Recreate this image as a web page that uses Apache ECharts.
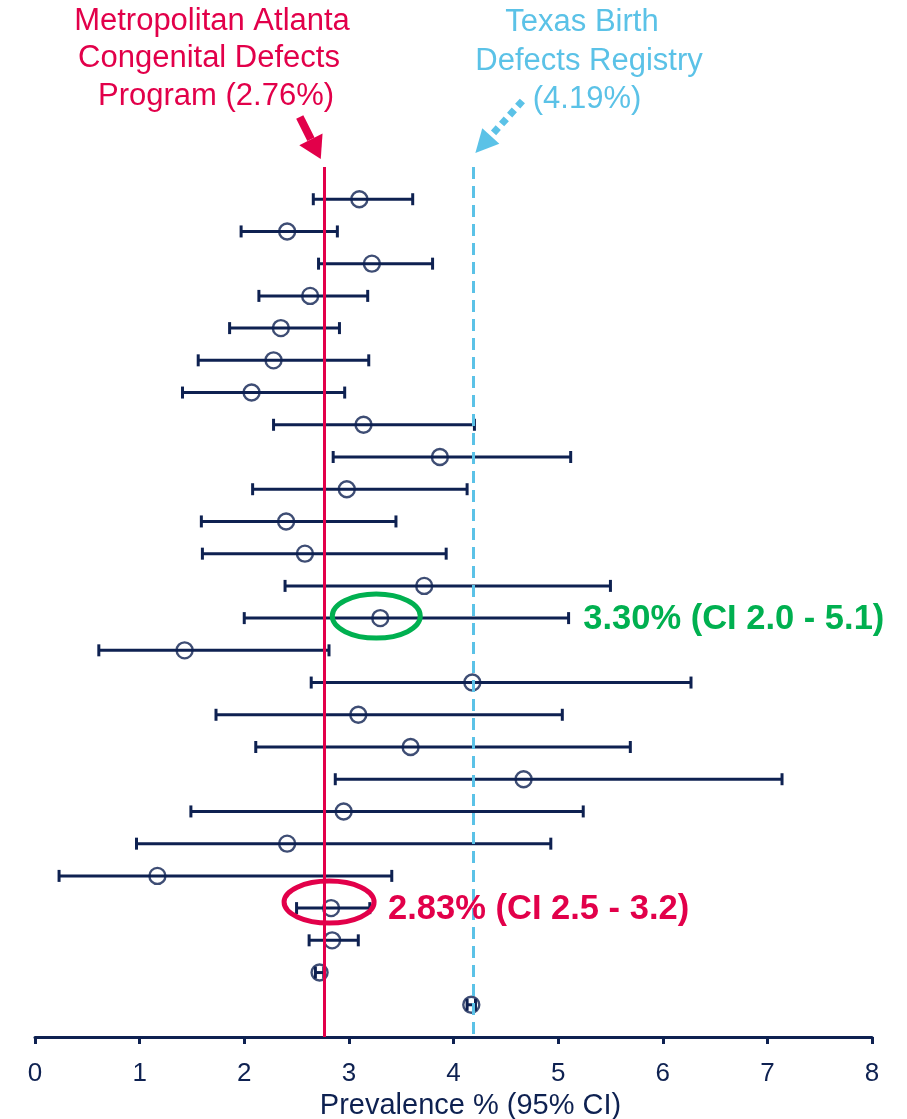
<!DOCTYPE html>
<html>
<head>
<meta charset="utf-8">
<title>Prevalence % (95% CI)</title>
<script src="https://cdn.jsdelivr.net/npm/echarts@6/dist/echarts.min.js"></script>
<style>
  html, body { margin: 0; padding: 0; background: #ffffff; }
  #chart { width: 907px; height: 1119px; }
</style>
</head>
<body>
<div id="chart"></div>
<script>
// Prevalence estimates (%) with 95% confidence limits, one entry per study, top to bottom
const prevalence = [3.10, 2.41, 3.22, 2.63, 2.35, 2.28, 2.07, 3.14, 3.87, 2.98, 2.40, 2.58, 3.72, 3.30, 1.43, 4.18, 3.09, 3.59, 4.67, 2.95, 2.41, 1.17, 2.83, 2.84, 2.72, 4.17];
const ciLower    = [2.66, 1.97, 2.71, 2.14, 1.86, 1.56, 1.41, 2.28, 2.85, 2.08, 1.59, 1.60, 2.39, 2.0,  0.61, 2.64, 1.73, 2.11, 2.87, 1.49, 0.97, 0.23, 2.5,  2.62, 2.68, 4.13];
const ciUpper    = [3.61, 2.89, 3.80, 3.18, 2.91, 3.19, 2.96, 4.20, 5.12, 4.13, 3.45, 3.93, 5.50, 5.1,  2.81, 6.27, 5.04, 5.69, 7.14, 5.24, 4.93, 3.41, 3.2,  3.09, 2.76, 4.21];

// Registry reference rates (%)
const atlantaRate = 2.76;
const texasRate = 4.19;

// x-axis ticks
const xTicks = [0, 1, 2, 3, 4, 5, 6, 7, 8];

// Highlighted studies (row index into the arrays above)
const highlightGreen = 13;
const highlightRed = 22;

const NAVY = '#0E2151';
const RED = '#E2004A';
const BLUE = '#5BC2E7';
const GREEN = '#00B050';
const FONT = '"Liberation Sans", Arial, Helvetica, sans-serif';

const rowCount = prevalence.length;
const rows = prevalence.map((_, i) => i + 1);
const ciData = rows.map((r, i) => [r, ciLower[i], ciUpper[i]]);
const pointData = rows.map((r, i) => [prevalence[i], r]);

const chart = echarts.init(document.getElementById('chart'), null, { renderer: 'canvas' });

const option = {
  backgroundColor: '#ffffff',
  animation: false,
  grid: { left: 35, right: 35, top: 167, bottom: 82, containLabel: false, outerBoundsMode: 'none' },
  xAxis: {
    type: 'value',
    position: 'bottom',
    min: xTicks[0],
    max: xTicks[xTicks.length - 1],
    interval: 1,
    axisLine: { show: true, onZero: false, lineStyle: { color: NAVY, width: 3 } },
    axisTick: { show: true, inside: false, length: 7, lineStyle: { color: NAVY, width: 3 } },
    axisLabel: { color: NAVY, fontSize: 26, fontFamily: FONT, margin: 24 },
    splitLine: { show: false },
    name: 'Prevalence % (95% CI)',
    nameLocation: 'middle',
    nameGap: 53,
    nameTextStyle: { color: NAVY, fontSize: 29, fontFamily: FONT, padding: [0, 0, 0, 34] }
  },
  yAxis: {
    type: 'value',
    min: 0,
    max: rowCount + 1,
    inverse: true,
    show: false
  },
  series: [
    {
      name: 'CI',
      type: 'custom',
      z: 2,
      encode: { x: [1, 2], y: 0 },
      data: ciData,
      renderItem: function (params, api) {
        const row = api.value(0);
        const a = api.coord([api.value(1), row]);
        const b = api.coord([api.value(2), row]);
        const cap = 6;
        const style = { stroke: NAVY, lineWidth: 3, fill: null };
        return {
          type: 'group',
          children: [
            { type: 'line', shape: { x1: a[0], y1: a[1], x2: b[0], y2: b[1] }, style: style },
            { type: 'line', shape: { x1: a[0], y1: a[1] - cap, x2: a[0], y2: a[1] + cap }, style: style },
            { type: 'line', shape: { x1: b[0], y1: b[1] - cap, x2: b[0], y2: b[1] + cap }, style: style }
          ]
        };
      }
    },
    {
      name: 'Prevalence',
      type: 'scatter',
      z: 3,
      symbol: 'circle',
      symbolSize: 16,
      itemStyle: { color: 'rgba(0,0,0,0)', borderColor: NAVY, borderWidth: 2.4 },
      data: pointData
    },
    {
      name: 'Reference',
      type: 'line',
      z: 5,
      data: [],
      markLine: {
        silent: true,
        symbol: ['none', 'none'],
        label: { show: false },
        data: [
          { xAxis: atlantaRate, lineStyle: { color: RED, width: 3, type: 'solid' } },
          { xAxis: texasRate, lineStyle: { color: BLUE, width: 3, type: [12, 7] } }
        ]
      }
    }
  ]
};

chart.setOption(option);

// Arrow made of a straight shaft and a triangular head
function arrowHead(tip, dir, len, half) {
  const bx = tip[0] - dir[0] * len, by = tip[1] - dir[1] * len;
  const nx = -dir[1], ny = dir[0];
  return [[tip[0], tip[1]], [bx + nx * half, by + ny * half], [bx - nx * half, by - ny * half]];
}
function unit(from, to) {
  const dx = to[0] - from[0], dy = to[1] - from[1];
  const l = Math.sqrt(dx * dx + dy * dy);
  return [dx / l, dy / l];
}

const topRed = chart.convertToPixel({ gridIndex: 0 }, [atlantaRate, 0]);
const topBlue = chart.convertToPixel({ gridIndex: 0 }, [texasRate, 0]);
const gPt = chart.convertToPixel({ gridIndex: 0 }, pointData[highlightGreen]);
const rPt = chart.convertToPixel({ gridIndex: 0 }, pointData[highlightRed]);

const redTip = [topRed[0] - 3, topRed[1] - 8];
const redTail = [redTip[0] - 21, redTip[1] - 42];
const redDir = unit(redTail, redTip);
const redBase = [redTip[0] - redDir[0] * 22, redTip[1] - redDir[1] * 22];

const blueTip = [topBlue[0] + 2, topBlue[1] - 14];
const blueTail = [blueTip[0] + 47, blueTip[1] - 52];
const blueDir = unit(blueTail, blueTip);
const blueBase = [blueTip[0] - blueDir[0] * 20, blueTip[1] - blueDir[1] * 20];

const titleStyle = (txt, color) => ({ text: txt, fill: color, font: '31px ' + FONT, align: 'center', verticalAlign: 'middle' });

chart.setOption({
  graphic: [
    // Atlanta label
    { type: 'text', x: 212, y: 21, style: titleStyle('Metropolitan Atlanta', RED) },
    { type: 'text', x: 209, y: 58, style: titleStyle('Congenital Defects', RED) },
    { type: 'text', x: 216, y: 96, style: titleStyle('Program (2.76%)', RED) },
    // Texas label
    { type: 'text', x: 582, y: 22, style: titleStyle('Texas Birth', BLUE) },
    { type: 'text', x: 589, y: 61, style: titleStyle('Defects Registry', BLUE) },
    { type: 'text', x: 587, y: 99, style: titleStyle('(4.19%)', BLUE) },
    // Red arrow
    { type: 'line', z: 10, shape: { x1: redTail[0], y1: redTail[1], x2: redBase[0], y2: redBase[1] },
      style: { stroke: RED, lineWidth: 8, lineCap: 'butt' } },
    { type: 'polygon', z: 10, shape: { points: arrowHead(redTip, redDir, 22, 13) }, style: { fill: RED } },
    // Blue dotted arrow
    { type: 'line', z: 10, shape: { x1: blueTail[0], y1: blueTail[1], x2: blueBase[0], y2: blueBase[1] },
      style: { stroke: BLUE, lineWidth: 7, lineDash: [7, 5], lineCap: 'butt' } },
    { type: 'polygon', z: 10, shape: { points: arrowHead(blueTip, blueDir, 23, 11.5) }, style: { fill: BLUE } },
    // Highlight ellipses
    { type: 'ellipse', z: 10, shape: { cx: gPt[0] - 4, cy: gPt[1] - 2, rx: 44, ry: 22 },
      style: { fill: null, stroke: GREEN, lineWidth: 5 } },
    { type: 'ellipse', z: 10, shape: { cx: rPt[0] - 2, cy: rPt[1] - 6, rx: 45, ry: 21 },
      style: { fill: null, stroke: RED, lineWidth: 5 } },
    // Highlight labels
    { type: 'text', z: 10, x: gPt[0] + 203, y: gPt[1] + 1,
      style: { text: prevalence[highlightGreen].toFixed(2) + '% (CI ' + ciLower[highlightGreen].toFixed(1) + ' - ' + ciUpper[highlightGreen].toFixed(1) + ')',
               fill: GREEN, font: 'bold 34.5px ' + FONT, align: 'left', verticalAlign: 'middle' } },
    { type: 'text', z: 10, x: rPt[0] + 57, y: rPt[1] + 1,
      style: { text: prevalence[highlightRed].toFixed(2) + '% (CI ' + ciLower[highlightRed].toFixed(1) + ' - ' + ciUpper[highlightRed].toFixed(1) + ')',
               fill: RED, font: 'bold 34.5px ' + FONT, align: 'left', verticalAlign: 'middle' } }
  ]
});
</script>
</body>
</html>
